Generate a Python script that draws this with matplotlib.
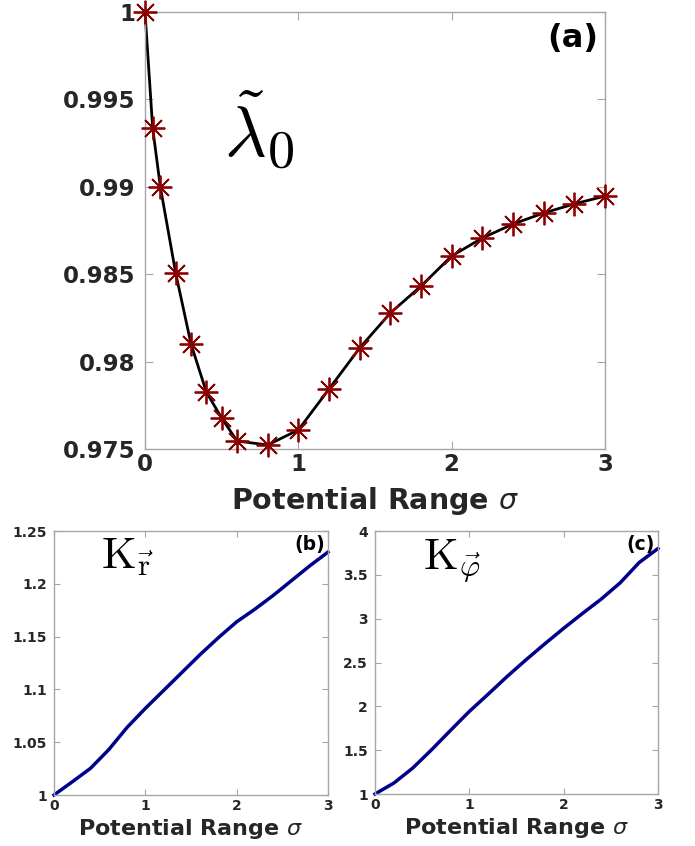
import matplotlib
matplotlib.use("Agg")
import matplotlib.pyplot as plt
import numpy as np

# ---- data ----
sigma_a = [0, 0.05, 0.1, 0.2, 0.3, 0.4, 0.5, 0.6, 0.8, 1.0, 1.2, 1.4, 1.6, 1.8,
           2.0, 2.2, 2.4, 2.6, 2.8, 3.0]
lambda0 = [1.0, 0.99336, 0.99000, 0.98507, 0.98101, 0.97826, 0.97677, 0.97546,
           0.97523, 0.97609, 0.97843, 0.98078, 0.98278, 0.98432, 0.98604,
           0.98707, 0.98787, 0.98850, 0.98902, 0.98947]

sigma_bc = [0, 0.2, 0.4, 0.6, 0.8, 1.0, 1.2, 1.4, 1.6, 1.8, 2.0, 2.2, 2.4,
            2.6, 2.8, 3.0]
K_r = [1.0, 1.0125, 1.0253, 1.043, 1.064, 1.082, 1.099, 1.116, 1.133, 1.149,
       1.164, 1.176, 1.189, 1.203, 1.217, 1.230]
K_phi = [1.0, 1.125, 1.296, 1.505, 1.725, 1.942, 2.139, 2.34, 2.53, 2.713,
         2.89, 3.06, 3.225, 3.41, 3.64, 3.80]

xticks = [0, 1, 2, 3]
yticks_a = [0.975, 0.98, 0.985, 0.99, 0.995, 1.0]
ylabels_a = ['0.975', '0.98', '0.985', '0.99', '0.995', '1']
yticks_b = [1.0, 1.05, 1.1, 1.15, 1.2, 1.25]
ylabels_b = ['1', '1.05', '1.1', '1.15', '1.2', '1.25']
yticks_c = [1.0, 1.5, 2.0, 2.5, 3.0, 3.5, 4.0]
ylabels_c = ['1', '1.5', '2', '2.5', '3', '3.5', '4']

W, H = 695, 846
fig = plt.figure(figsize=(W / 100, H / 100), dpi=100)

def frac(l, r, t, b):
    return [l / W, 1 - b / H, (r - l) / W, (b - t) / H]

tick_col = '#262626'
spine_col = '#a6a6a6'

def style(ax, fs, ticklen, ypad):
    for s in ax.spines.values():
        s.set_color(spine_col)
        s.set_linewidth(1.0)
    ax.tick_params(direction='in', top=True, right=True, length=ticklen,
                   width=0.8, color=spine_col, labelcolor=tick_col,
                   labelsize=fs, pad=3)
    ax.tick_params(axis='y', pad=ypad)
    for lab in ax.get_xticklabels() + ax.get_yticklabels():
        lab.set_fontweight('bold')

# ---- panel (a) ----
ax1 = fig.add_axes(frac(145, 605, 12, 449))
ax1.plot(sigma_a, lambda0, color='black', lw=2, zorder=2, clip_on=False)
ax1.plot(sigma_a, lambda0, linestyle='none', marker=(8, 2, 0), ms=17,
         mew=1.3, mec='#8b0000', color='#8b0000', zorder=3, clip_on=False)
ax1.set_xlim(0, 3)
ax1.set_ylim(0.975, 1.0)
ax1.set_xticks(xticks)
ax1.set_xticklabels([str(v) for v in xticks])
ax1.set_yticks(yticks_a)
ax1.set_yticklabels(ylabels_a)
style(ax1, 16.5, 6, 7)
ax1.set_xlabel(r'Potential Range $\sigma$', fontsize=20.5, fontweight='bold',
               color=tick_col, labelpad=6, math_fontfamily='dejavusans')
ax1.text(0.985, 0.975, '(a)', transform=ax1.transAxes, ha='right', va='top',
         fontsize=23, fontweight='bold', color='black')
ax1.text(0.172, 0.668, r'$\tilde{\lambda}$', transform=ax1.transAxes,
         fontsize=52, math_fontfamily='cm', ha='left', va='baseline')
ax1.text(0.266, 0.645, r'$0$', transform=ax1.transAxes,
         fontsize=39, math_fontfamily='cm', ha='left', va='baseline')

# ---- panel (b) ----
ax2 = fig.add_axes(frac(54, 328, 531, 795))
ax2.plot(sigma_bc, K_r, color='#00008b', lw=2.5, clip_on=False)
ax2.set_xlim(0, 3)
ax2.set_ylim(1.0, 1.25)
ax2.set_xticks(xticks)
ax2.set_xticklabels([str(v) for v in xticks])
ax2.set_yticks(yticks_b)
ax2.set_yticklabels(ylabels_b)
style(ax2, 10, 4, 5)
ax2.set_xlabel(r'Potential Range $\sigma$', fontsize=16, fontweight='bold',
               color=tick_col, labelpad=3, math_fontfamily='dejavusans')
ax2.text(0.99, 0.985, '(b)', transform=ax2.transAxes, ha='right', va='top',
         fontsize=13.5, fontweight='bold', color='black')
ax2.text(0.17, 0.86, r'$\mathrm{K}_{\vec{\mathrm{r}}}$', transform=ax2.transAxes,
         fontsize=32, math_fontfamily='cm', ha='left', va='baseline')

# ---- panel (c) ----
ax3 = fig.add_axes(frac(375, 658, 531, 794))
ax3.plot(sigma_bc, K_phi, color='#00008b', lw=2.5, clip_on=False)
ax3.set_xlim(0, 3)
ax3.set_ylim(1.0, 4.0)
ax3.set_xticks(xticks)
ax3.set_xticklabels([str(v) for v in xticks])
ax3.set_yticks(yticks_c)
ax3.set_yticklabels(ylabels_c)
style(ax3, 10, 4, 5)
ax3.set_xlabel(r'Potential Range $\sigma$', fontsize=16, fontweight='bold',
               color=tick_col, labelpad=3, math_fontfamily='dejavusans')
ax3.text(0.99, 0.985, '(c)', transform=ax3.transAxes, ha='right', va='top',
         fontsize=13.5, fontweight='bold', color='black')
ax3.text(0.17, 0.86, r'$\mathrm{K}_{\vec{\varphi}}$', transform=ax3.transAxes,
         fontsize=32, math_fontfamily='cm', ha='left', va='baseline')

fig.savefig('out.png', dpi=100)
